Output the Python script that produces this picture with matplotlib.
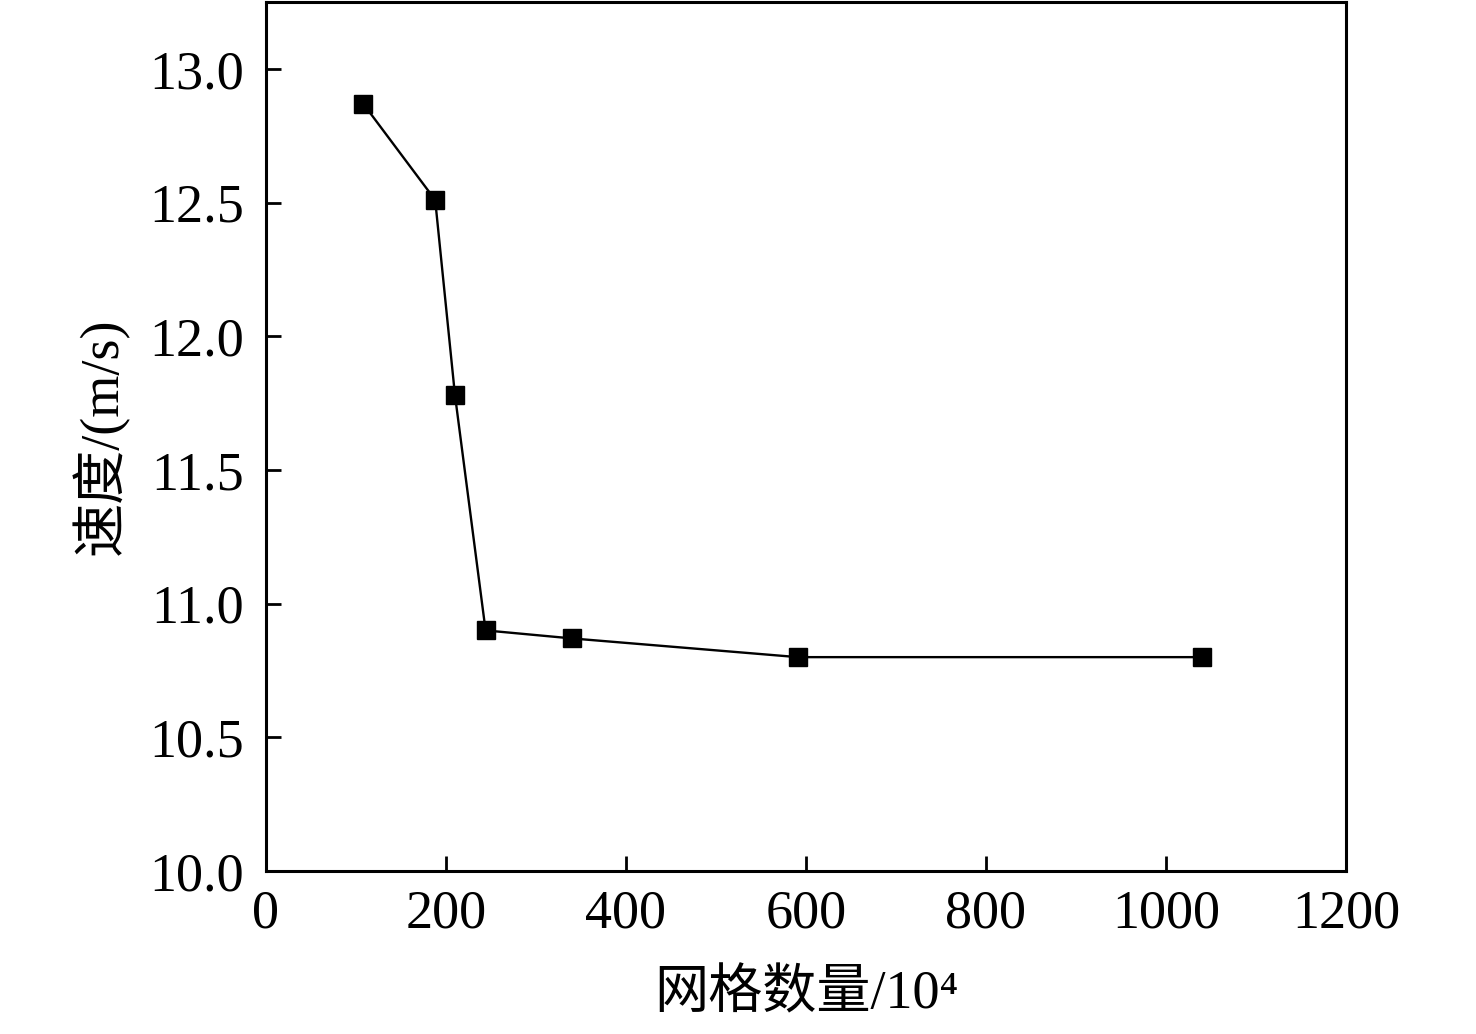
import matplotlib
matplotlib.use("Agg")
import matplotlib.pyplot as plt

grid_count = [108, 188, 210, 244, 340, 591, 1040]
speed = [12.87, 12.51, 11.78, 10.90, 10.87, 10.80, 10.80]
xticks = [0, 200, 400, 600, 800, 1000, 1200]
yticks = [10.0, 10.5, 11.0, 11.5, 12.0, 12.5, 13.0]

plt.rcParams['font.family'] = ['Liberation Serif', 'Noto Sans CJK SC', 'DejaVu Serif']

fig = plt.figure(figsize=(14.76, 10.34), dpi=100)
ax = fig.add_axes([0.1802, 0.1576, 0.9119 - 0.1802, 0.998 - 0.1576])

ax.plot(grid_count, speed, color='black', lw=1.7, marker='s', ms=13.5,
        markerfacecolor='black', markeredgecolor='black')

ax.set_xlim(0, 1200)
ax.set_ylim(10.0, 13.25)
ax.set_xticks(xticks)
ax.set_yticks(yticks)
ax.set_yticklabels(['%.1f' % v for v in yticks])
ax.tick_params(direction='in', length=11, width=2, labelsize=39)
ax.tick_params(axis='x', pad=13)
ax.tick_params(axis='y', pad=16)
for s in ax.spines.values():
    s.set_linewidth(2.2)

ax.set_xlabel('网格数量/10\u2074', fontsize=39, labelpad=22)
ax.set_ylabel('速度/(m/s)', fontsize=39, labelpad=14)

fig.savefig('out.png', dpi=100)
